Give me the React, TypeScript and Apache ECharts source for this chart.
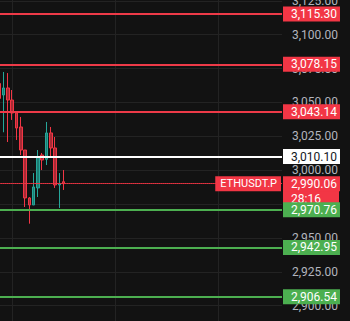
import React, { useEffect, useRef } from 'react';
import * as echarts from 'echarts';

// candle slots on the time axis (only the first ones are filled)
const candleSlots = 67;
// [open, close, low, high]
const candles: number[][] = [
  [3064.0, 3053.0, 3040.0, 3066.0],
  [3055.5, 3060.7, 3028.0, 3072.5],
  [3060.7, 3051.8, 3020.8, 3071.7],
  [3051.8, 3042.2, 3037.1, 3059.2],
  [3042.2, 3031.1, 3022.3, 3043.0],
  [3031.9, 3014.9, 3011.2, 3039.3],
  [3014.9, 2979.5, 2972.8, 3014.9],
  [2979.5, 2974.3, 2960.5, 2980.2],
  [2974.3, 2987.6, 2974.3, 2997.9],
  [2986.9, 3009.7, 2980.2, 3014.9],
  [3011.2, 3007.5, 3000.1, 3012.7],
  [3008.0, 3027.5, 3003.8, 3035.6],
  [3027.5, 3016.4, 3009.7, 3031.9],
  [3016.4, 2989.1, 2986.9, 3024.5],
  [2989.1, 2990.0, 2972.1, 2997.9],
  [2991.5, 2990.06, 2985.4, 3000.1],
];

const levelValues = [3115.3, 3078.15, 3043.14, 3010.1, 2970.76, 2942.95, 2906.54];
const levelKinds = ['red', 'red', 'red', 'white', 'green', 'green', 'green'];

const currentPrice = 2990.06;
const symbolName = 'ETHUSDT.P';
const countdown = '28:16';

const yMin = 2875;
const yMax = 3150;
const yInterval = 25;

const palette: Record<string, { line: string; box: string; text: string }> = {
  red: { line: '#ee3a48', box: '#f23645', text: '#ffffff' },
  white: { line: '#ffffff', box: '#ffffff', text: '#131722' },
  green: { line: '#4caf50', box: '#4caf50', text: '#ffffff' },
};

const FONT = 'Roboto, "Noto Sans", sans-serif';

const fmt = (v: number) =>
  v.toLocaleString('en-US', { minimumFractionDigits: 2, maximumFractionDigits: 2 });

export default function App() {
  const ref = useRef<HTMLDivElement>(null);

  useEffect(() => {
    if (!ref.current) return;
    const chart = echarts.init(ref.current, null, { renderer: 'svg' });
    const categories = Array.from({ length: candleSlots }, (_, i) => String(i));

    const levelLines = levelValues.map((v, i) => {
      const c = palette[levelKinds[i]];
      return {
        yAxis: v,
        lineStyle: { color: c.line, width: 2, type: 'solid' },
        label: {
          show: true,
          position: 'end',
          distance: 1,
          formatter: fmt(v),
          backgroundColor: c.box,
          color: c.text,
          fontFamily: FONT,
          fontSize: 12,
          lineHeight: 12,
          padding: [2, 3, 1, 8],
        },
      };
    });

    const countdownLine = {
      yAxis: currentPrice,
      lineStyle: { color: '#f23645', width: 1, type: 'dotted' },
      label: {
        show: true,
        position: 'end',
        distance: 1,
        verticalAlign: 'top',
        formatter: countdown,
        backgroundColor: '#f23645',
        color: '#ffffff',
        fontFamily: FONT,
        fontSize: 12,
        lineHeight: 13,
        width: 45,
        padding: [9, 3, 1, 8],
      },
    };

    const priceLine = {
      yAxis: currentPrice,
      lineStyle: { color: '#f23645', width: 1, type: 'dotted' },
      label: {
        show: true,
        position: 'end',
        distance: 1,
        formatter: fmt(currentPrice),
        backgroundColor: '#f23645',
        color: '#ffffff',
        fontFamily: FONT,
        fontSize: 12,
        lineHeight: 12,
        padding: [2, 3, 1, 8],
      },
    };

    const symbolLine = {
      yAxis: currentPrice,
      lineStyle: { color: '#f23645', width: 1, type: 'dotted' },
      label: {
        show: true,
        position: 'insideEnd',
        distance: 1,
        formatter: symbolName,
        backgroundColor: '#f23645',
        color: '#ffffff',
        fontFamily: FONT,
        fontSize: 11,
        lineHeight: 13,
        padding: [1, 4, 1, 5],
      },
    };

    chart.setOption({
      animation: false,
      backgroundColor: '#121212',
      grid: {
        left: -0.6,
        right: 68,
        top: -33,
        bottom: -18.5,
        containLabel: false,
        outerBoundsMode: 'none',
      },
      xAxis: {
        type: 'category',
        data: categories,
        boundaryGap: false,
        axisLine: { show: false },
        axisTick: { show: false },
        axisLabel: { show: false },
        splitLine: {
          show: true,
          interval: (index: number) => index % 24 === 3,
          lineStyle: { color: '#232323', width: 1 },
        },
      },
      yAxis: {
        type: 'value',
        position: 'right',
        min: yMin,
        max: yMax,
        interval: yInterval,
        axisLine: { show: false },
        axisTick: { show: false },
        axisLabel: {
          color: '#b2b5be',
          fontFamily: FONT,
          fontSize: 12,
          margin: 10,
          formatter: (v: number) => fmt(v),
        },
        splitLine: { show: true, lineStyle: { color: '#232323', width: 1 } },
      },
      series: [
        {
          type: 'candlestick',
          data: candles,
          barWidth: 3,
          itemStyle: {
            color: '#1c7c72',
            color0: '#a82a35',
            borderColor: '#26a69a',
            borderColor0: '#f23645',
            borderWidth: 1,
          },
          markLine: {
            silent: true,
            symbol: ['none', 'none'],
            animation: false,
            data: [countdownLine, priceLine, symbolLine, ...levelLines],
          },
        },
      ],
    });

    return () => chart.dispose();
  }, []);

  return (
    <div
      ref={ref}
      style={{ position: 'fixed', left: 0, top: 0, width: 350, height: 321, background: '#121212' }}
    />
  );
}
